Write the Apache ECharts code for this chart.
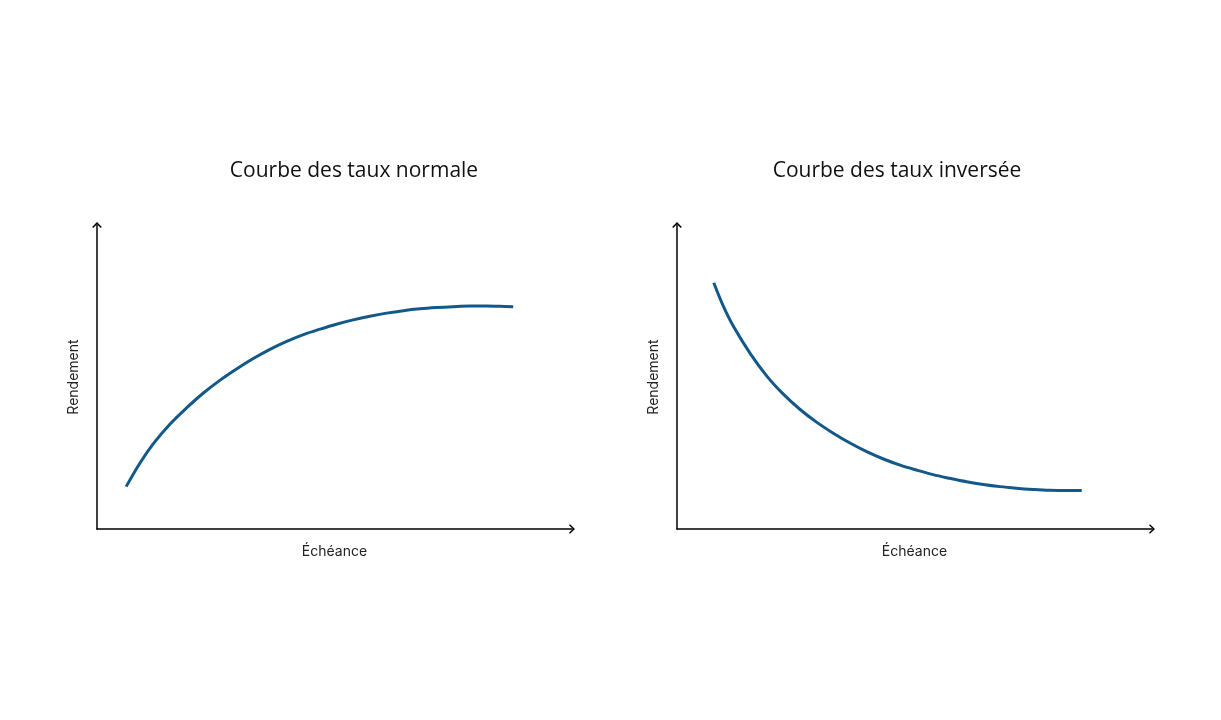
<!DOCTYPE html>
<html>
<head>
<meta charset="utf-8">
<title>Courbe des taux</title>
<script src="https://cdn.jsdelivr.net/npm/echarts@6/dist/echarts.min.js"></script>
<style>
  html, body { margin: 0; padding: 0; background: #ffffff; }
  #chart { width: 1221px; height: 720px; }
</style>
</head>
<body>
<div id="chart"></div>
<script>
// Titles and axis names
const titles = ['Courbe des taux normale', 'Courbe des taux inversée'];
const xName = 'Échéance';
const yName = 'Rendement';

// Maturity (x) and yield (y) on a schematic scale
const normalX = [6.1, 9.0, 11.8, 15.3, 18.8, 22.2, 25.7, 29.2, 32.7, 36.2, 39.7, 43.2, 46.7, 50.1,
                 53.6, 57.1, 60.6, 64.1, 67.6, 71.0, 74.5, 78.0, 81.5, 84.3, 87.1];
const normalY = [13.8, 21.5, 27.8, 34.2, 39.5, 44.2, 48.4, 52.1, 55.5, 58.5, 61.1, 63.3, 65.1, 66.7,
                 68.1, 69.3, 70.3, 71.1, 71.7, 72.1, 72.4, 72.6, 72.6, 72.5, 72.4];

const invertedX = [7.7, 9.6, 11.8, 15.3, 18.8, 22.2, 25.7, 29.2, 32.7, 36.2, 39.7, 43.2, 46.7, 50.1,
                   53.6, 57.1, 60.6, 64.1, 67.6, 71.0, 74.5, 78.0, 81.5, 84.7];
const invertedY = [80.2, 72.9, 66.0, 57.2, 49.8, 44.0, 39.0, 34.8, 31.2, 28.0, 25.2, 22.8, 20.8, 19.2,
                   17.7, 16.5, 15.4, 14.5, 13.8, 13.3, 12.9, 12.6, 12.5, 12.5];

const pairs = (xs, ys) => xs.map((x, i) => [x, ys[i]]);

// Open chevron used as the arrow head at the end of each axis
const chevron = 'path://M5,0 L10,5.2 L8.9,6.2 L5,2.2 L1.1,6.2 L0,5.2 Z';

const axisLine = {
  show: true,
  lineStyle: { color: '#000000', width: 1.5 },
  symbol: ['none', chevron],
  symbolSize: [10, 6]
};

const nameStyle = { fontFamily: 'Inter', fontSize: 14, color: '#222222' };

function xAxis(gridIndex) {
  return {
    type: 'value', gridIndex, min: 0, max: 99.4,
    name: xName, nameLocation: 'middle', nameGap: 16, nameTextStyle: nameStyle,
    axisLine, axisTick: { show: false }, axisLabel: { show: false }, splitLine: { show: false }
  };
}
function yAxis(gridIndex) {
  return {
    type: 'value', gridIndex, min: 0, max: 99.0,
    name: yName, nameLocation: 'middle', nameGap: 16, nameRotate: 90, nameTextStyle: nameStyle,
    axisLine, axisTick: { show: false }, axisLabel: { show: false }, splitLine: { show: false }
  };
}

const lineColor = '#12598a';
const titleStyle = { fontFamily: 'Open Sans', fontSize: 21, fontWeight: 'normal', color: '#111111' };

const chart = echarts.init(document.getElementById('chart'), null, { renderer: 'canvas' });
chart.setOption({
  backgroundColor: '#ffffff',
  animation: false,
  title: [
    { text: titles[0], left: 349, top: 156, textAlign: 'center', textStyle: titleStyle },
    { text: titles[1], left: 892, top: 156, textAlign: 'center', textStyle: titleStyle }
  ],
  grid: [
    { left: 97, top: 225, width: 475, height: 304 },
    { left: 677, top: 225, width: 475, height: 304 }
  ],
  xAxis: [xAxis(0), xAxis(1)],
  yAxis: [yAxis(0), yAxis(1)],
  series: [
    { type: 'line', xAxisIndex: 0, yAxisIndex: 0, data: pairs(normalX, normalY),
      smooth: 0.35, showSymbol: false,
      lineStyle: { color: lineColor, width: 3 } },
    { type: 'line', xAxisIndex: 1, yAxisIndex: 1, data: pairs(invertedX, invertedY),
      smooth: 0.35, showSymbol: false,
      lineStyle: { color: lineColor, width: 3 } }
  ]
});
</script>
</body>
</html>
